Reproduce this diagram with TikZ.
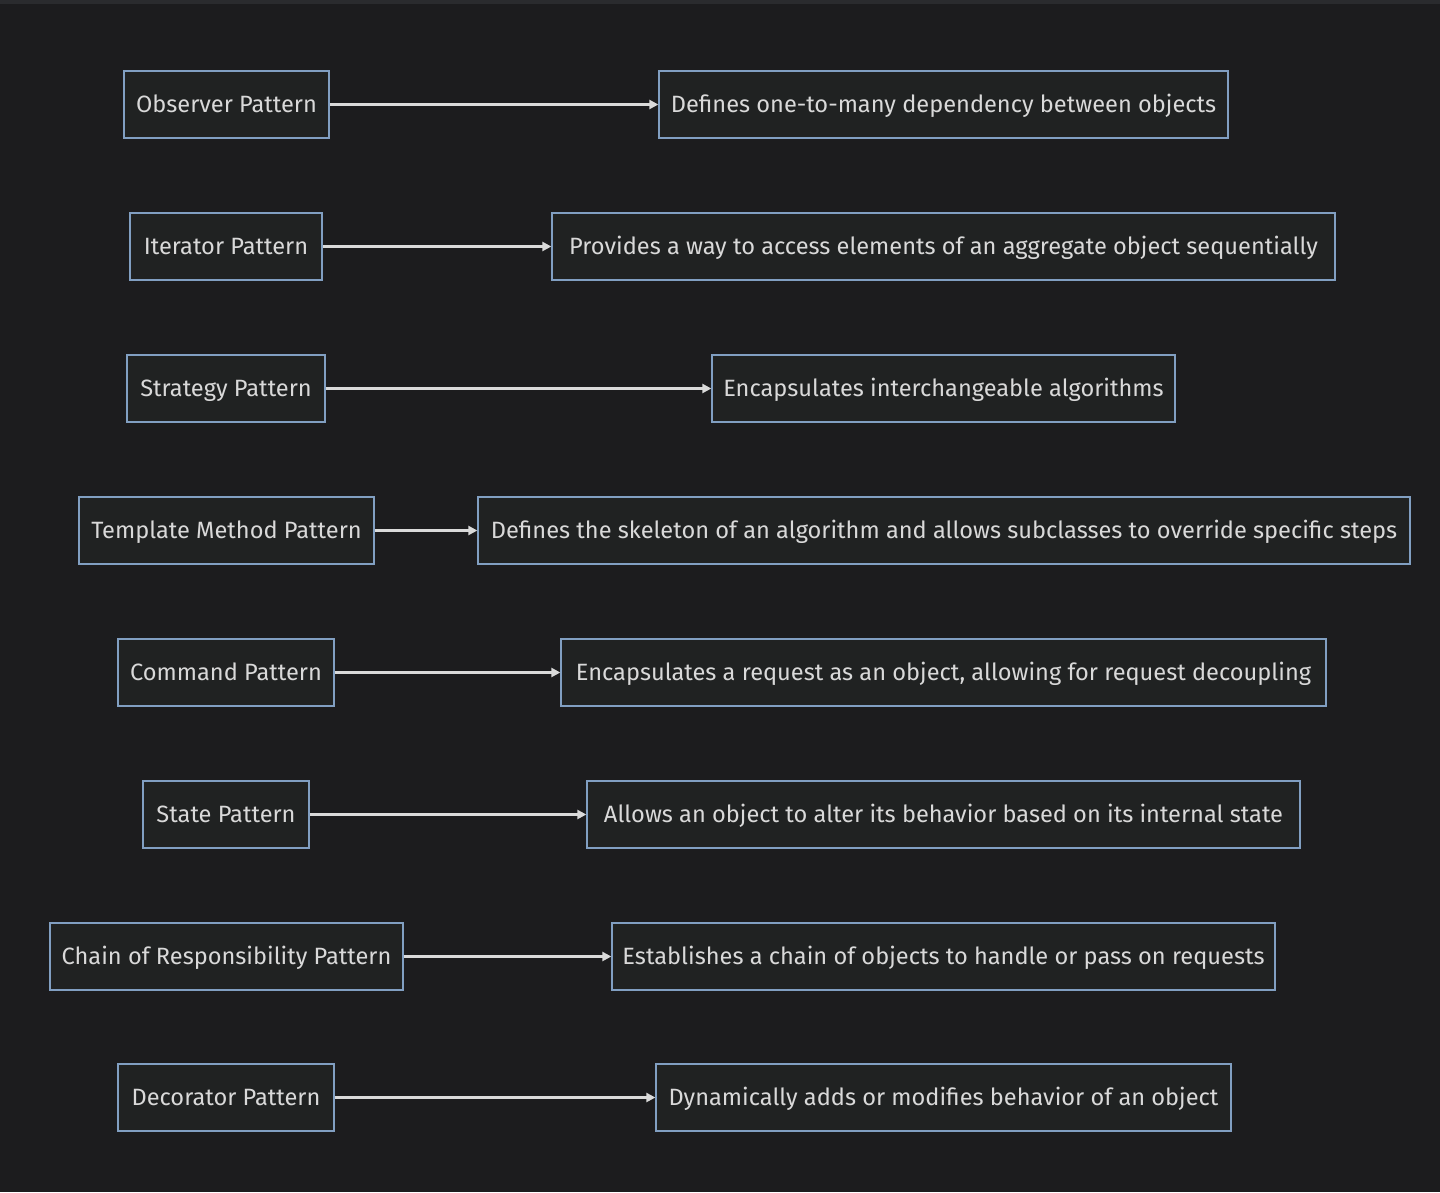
\documentclass[tikz,border=0pt]{standalone}
\usepackage{fontspec}
\setmainfont{Fira Sans}
\usetikzlibrary{arrows.meta}
\definecolor{bgc}{HTML}{1C1C1E}
\definecolor{topc}{HTML}{2A2B2E}
\definecolor{boxfill}{HTML}{202222}
\definecolor{boxline}{HTML}{819FC2}
\definecolor{txt}{HTML}{D9D9D9}
\definecolor{arr}{HTML}{DADADA}
\tikzset{
  box/.style={draw=boxline, fill=boxfill, line width=1.3pt, inner sep=0pt,
    minimum height=67pt, text height=16.3pt, text depth=0pt,
    text=txt, font=\fontsize{23.6}{28}\selectfont, anchor=center},
  link/.style={draw=arr, line width=2.4pt, -{Triangle[length=9pt,width=9pt]}}
}
\begin{document}
\begin{tikzpicture}[x=1pt,y=-1pt]
\useasboundingbox (0,0) rectangle (1440,1192);
\fill[bgc] (0,0) rectangle (1440,1192);
\fill[topc] (0,0) rectangle (1440,4);
% row 1
\node[box, minimum width=205pt] (l1) at (226.5,104.5) {Observer Pattern};
\node[box, minimum width=569pt] (r1) at (943.5,104.5) {Defines one-to-many dependency between objects};
% row 2
\node[box, minimum width=192pt] (l2) at (226,246.5) {Iterator Pattern};
\node[box, minimum width=783pt] (r2) at (943.5,246.5) {Provides a way to access elements of an aggregate object sequentially};
% row 3
\node[box, minimum width=198pt] (l3) at (226,388.5) {Strategy Pattern};
\node[box, minimum width=463pt] (r3) at (943.5,388.5) {Encapsulates interchangeable algorithms};
% row 4
\node[box, minimum width=295pt] (l4) at (226.5,530.5) {Template Method Pattern};
\node[box, minimum width=932pt] (r4) at (944,530.5) {Defines the skeleton of an algorithm and allows subclasses to override specific steps};
% row 5
\node[box, minimum width=216pt] (l5) at (226,672.5) {Command Pattern};
\node[box, minimum width=765pt] (r5) at (943.5,672.5) {Encapsulates a request as an object, allowing for request decoupling};
% row 6
\node[box, minimum width=166pt] (l6) at (226,814.5) {State Pattern};
\node[box, minimum width=713pt] (r6) at (943.5,814.5) {Allows an object to alter its behavior based on its internal state};
% row 7
\node[box, minimum width=353pt] (l7) at (226.5,956.5) {Chain of Responsibility Pattern};
\node[box, minimum width=663pt] (r7) at (943.5,956.5) {Establishes a chain of objects to handle or pass on requests};
% row 8
\node[box, minimum width=216pt] (l8) at (226,1097.5) {Decorator Pattern};
\node[box, minimum width=575pt] (r8) at (943.5,1097.5) {Dynamically adds or modifies behavior of an object};
\foreach \i in {1,...,8}{
  \draw[link] (l\i.east) -- (r\i.west);
}
\end{tikzpicture}
\end{document}
